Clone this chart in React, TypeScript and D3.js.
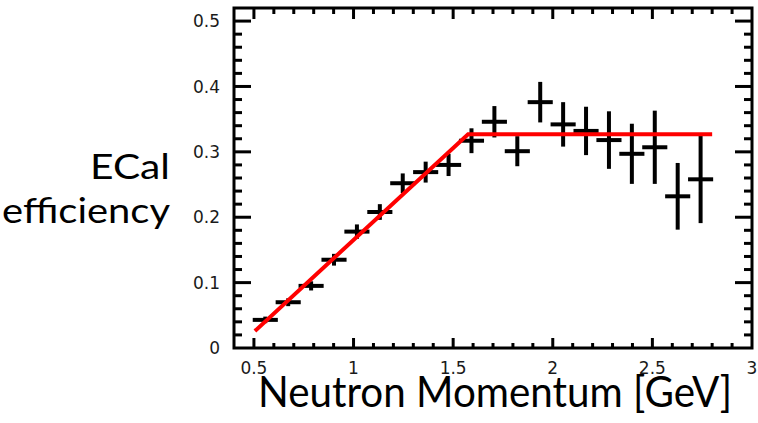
import React from "react";
import * as d3 from "d3";

const xCenters = [0.557, 0.672, 0.787, 0.902, 1.017, 1.132, 1.247, 1.362, 1.477, 1.592, 1.707, 1.822, 1.937, 2.052, 2.167, 2.282, 2.397, 2.512, 2.627, 2.742];
const efficiency = [0.043, 0.070, 0.095, 0.135, 0.178, 0.208, 0.252, 0.269, 0.280, 0.317, 0.346, 0.301, 0.376, 0.342, 0.332, 0.318, 0.297, 0.307, 0.232, 0.258];
const effErr = [0.005, 0.006, 0.007, 0.009, 0.011, 0.012, 0.015, 0.016, 0.017, 0.019, 0.024, 0.023, 0.031, 0.034, 0.037, 0.044, 0.046, 0.056, 0.051, 0.067];
const binHalfWidth = 0.063;
const fitX = [0.505, 1.575, 2.8];
const fitY = [0.026, 0.327, 0.327];
const xTickLabels = ["0.5", "1", "1.5", "2", "2.5", "3"];
const yTickLabels = ["0", "0.1", "0.2", "0.3", "0.4", "0.5"];

const W = 758, H = 423;
const L = 234, R = 752, T = 8, B = 348;

export default function App() {
  const x = d3.scaleLinear().domain([0.4, 3.0]).range([L, R]);
  const y = d3.scaleLinear().domain([0, 0.52]).range([B, T]);
  const line = d3.line<number>().x((d) => x(fitX[d])).y((d) => y(fitY[d]));

  const xMinor = d3.range(5, 30).map((v) => v / 10);
  const yMinor = d3.range(1, 26).map((v) => v / 50);
  const tickColor = "#000";
  const sw = 3;

  return (
    <svg width={W} height={H} style={{ position: "absolute", left: 0, top: 0, background: "#fff" }}>
      {xMinor.map((v, i) => {
        const major = Math.abs(v * 2 - Math.round(v * 2)) < 1e-6;
        const px = x(v);
        return (
          <g key={"xt" + i}>
            <line x1={px} x2={px} y1={B} y2={B - (major ? 10 : 5)} stroke={tickColor} strokeWidth={sw} />
            <line x1={px} x2={px} y1={T} y2={T + (major ? 11 : 6)} stroke={tickColor} strokeWidth={sw} />
          </g>
        );
      })}
      {yMinor.map((v, i) => {
        const major = Math.abs(v * 10 - Math.round(v * 10)) < 1e-6;
        const py = y(v);
        return (
          <g key={"yt" + i}>
            <line x1={L} x2={L + (major ? 17 : 8)} y1={py} y2={py} stroke={tickColor} strokeWidth={sw} />
            <line x1={R} x2={R - (major ? 17 : 8)} y1={py} y2={py} stroke={tickColor} strokeWidth={sw} />
          </g>
        );
      })}
      <rect x={L} y={T} width={R - L} height={B - T} fill="none" stroke="#000" strokeWidth={sw} />

      {xTickLabels.map((t, i) => (
        <text key={"xl" + i} x={x(+t)} y={374} textAnchor="middle" fontFamily="DejaVu Sans" fontSize={17} fill="#1a1a1a">{t}</text>
      ))}
      {yTickLabels.map((t, i) => (
        <text key={"yl" + i} x={220} y={y(+t)} dy="0.36em" textAnchor="end" fontFamily="DejaVu Sans" fontSize={17} fill="#1a1a1a">{t}</text>
      ))}

      {xCenters.map((xc, i) => (
        <g key={"p" + i} stroke="#000" strokeWidth={4}>
          <line x1={x(xc - binHalfWidth)} x2={x(xc + binHalfWidth)} y1={y(efficiency[i])} y2={y(efficiency[i])} />
          <line x1={x(xc)} x2={x(xc)} y1={y(efficiency[i] - effErr[i])} y2={y(efficiency[i] + effErr[i])} />
        </g>
      ))}

      <path d={line(d3.range(fitX.length)) || ""} fill="none" stroke="#ff0000" strokeWidth={4} />

      <text x={258} y={407} fontFamily="Lato" fontSize={43} fill="#000" textLength={474} lengthAdjust="spacingAndGlyphs">Neutron Momentum [GeV]</text>
      <text x={170} y={179} textAnchor="end" fontFamily="Lato" fontSize={35} fill="#000" textLength={80} lengthAdjust="spacingAndGlyphs">ECal</text>
      <text x={170} y={223} textAnchor="end" fontFamily="Lato" fontSize={35} fill="#000" textLength={168} lengthAdjust="spacingAndGlyphs">efficiency</text>
    </svg>
  );
}
